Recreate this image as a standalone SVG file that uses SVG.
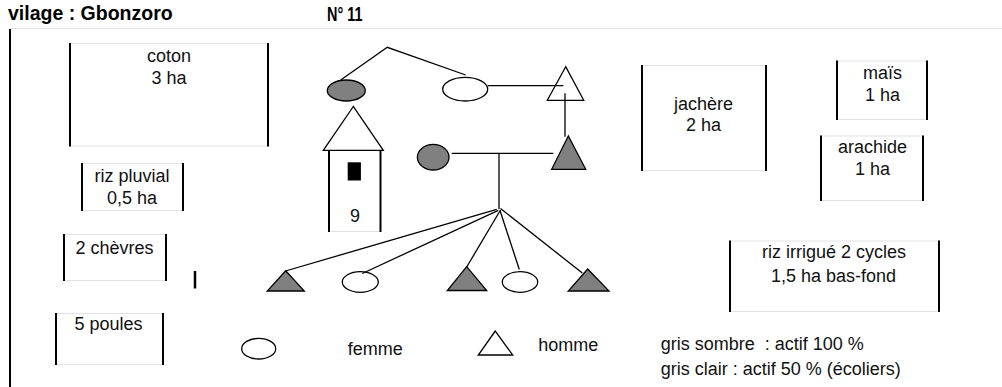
<svg xmlns="http://www.w3.org/2000/svg" width="1002" height="387" viewBox="0 0 1002 387">
<style>
  .t { font-family: "Liberation Sans", Arial, sans-serif; font-size: 18px; fill: #111; text-anchor: middle; }
  .tl { font-family: "Liberation Sans", Arial, sans-serif; font-size: 18px; fill: #111; }
  .hd { font-family: "Liberation Sans", Arial, sans-serif; font-size: 19.5px; font-weight: bold; fill: #000; }
  .side { stroke: #000; stroke-width: 2; fill: none; }
  .edge { stroke: #e2e2e2; stroke-width: 1; fill: none; }
  .dark { fill: #808080; stroke: #000; stroke-width: 1.3; }
  .light { fill: #fff; stroke: #000; stroke-width: 1.3; }
  .con { stroke: #000; stroke-width: 1.3; fill: none; }
</style>
<rect width="1002" height="387" fill="#fff"/>

<g id="header">
  <text class="hd" x="8" y="20">vilage : Gbonzoro</text>
  <text class="hd" x="327" y="20.5" textLength="35.5" lengthAdjust="spacingAndGlyphs">N° 11</text>
  <line class="edge" x1="10" y1="28.5" x2="1002" y2="28.5"/>
  <line class="side" x1="10" y1="29" x2="10" y2="387"/>
</g>

<g id="coton">
  <line class="edge" x1="70" y1="43.5" x2="268" y2="43.5"/>
  <line class="edge" x1="70" y1="146" x2="268" y2="146"/>
  <line class="side" x1="70" y1="43" x2="70" y2="146.5"/>
  <line class="side" x1="268" y1="43" x2="268" y2="146.5"/>
  <text class="t" x="169" y="61.5">coton</text>
  <text class="t" x="169" y="84">3 ha</text>
</g>

<g id="riz-pluvial">
  <line class="edge" x1="82" y1="163.5" x2="183" y2="163.5"/>
  <line class="edge" x1="82" y1="210.5" x2="183" y2="210.5"/>
  <line class="side" x1="82" y1="163" x2="82" y2="211"/>
  <line class="side" x1="183" y1="163" x2="183" y2="211"/>
  <text class="t" x="132" y="181.5">riz pluvial</text>
  <text class="t" x="132" y="203.5">0,5 ha</text>
</g>

<g id="chevres">
  <line class="edge" x1="64" y1="234.5" x2="166" y2="234.5"/>
  <line class="edge" x1="64" y1="280.5" x2="166" y2="280.5"/>
  <line class="side" x1="64" y1="234" x2="64" y2="281"/>
  <line class="side" x1="166" y1="234" x2="166" y2="281"/>
  <text class="t" x="114.5" y="253.5">2 chèvres</text>
</g>

<g id="bar">
  <line class="side" x1="195" y1="271" x2="195" y2="288.5" style="stroke-width:2.5"/>
</g>

<g id="poules">
  <line class="edge" x1="56" y1="313.5" x2="163" y2="313.5"/>
  <line class="edge" x1="56" y1="364.5" x2="163" y2="364.5"/>
  <line class="side" x1="56" y1="313" x2="56" y2="365"/>
  <line class="side" x1="163" y1="313" x2="163" y2="365"/>
  <text class="t" x="108.5" y="330">5 poules</text>
</g>

<g id="jachere">
  <line class="edge" x1="642" y1="65.5" x2="766" y2="65.5"/>
  <line class="edge" x1="642" y1="170.5" x2="766" y2="170.5"/>
  <line class="side" x1="642" y1="65" x2="642" y2="171"/>
  <line class="side" x1="766" y1="65" x2="766" y2="171"/>
  <text class="t" x="703.5" y="109.5">jachère</text>
  <text class="t" x="703.5" y="131">2 ha</text>
</g>

<g id="mais">
  <line class="edge" x1="837" y1="61" x2="927" y2="61"/>
  <line class="edge" x1="837" y1="119.5" x2="927" y2="119.5"/>
  <line class="side" x1="837" y1="60.5" x2="837" y2="120"/>
  <line class="side" x1="927" y1="60.5" x2="927" y2="120"/>
  <text class="t" x="882.5" y="78.5">maïs</text>
  <text class="t" x="882.5" y="100.5">1 ha</text>
</g>

<g id="arachide">
  <line class="edge" x1="821" y1="136" x2="923" y2="136"/>
  <line class="edge" x1="821" y1="200.5" x2="923" y2="200.5"/>
  <line class="side" x1="821" y1="135.5" x2="821" y2="201"/>
  <line class="side" x1="923" y1="135.5" x2="923" y2="201"/>
  <text class="t" x="872.5" y="153">arachide</text>
  <text class="t" x="872.5" y="175">1 ha</text>
</g>

<g id="riz-irrigue">
  <line class="edge" x1="730" y1="241" x2="939" y2="241"/>
  <line class="edge" x1="730" y1="311.5" x2="939" y2="311.5"/>
  <line class="side" x1="730" y1="240.5" x2="730" y2="312"/>
  <line class="side" x1="939" y1="240.5" x2="939" y2="312"/>
  <text class="t" x="834" y="257.5">riz irrigué 2 cycles</text>
  <text class="t" x="833.5" y="281.5">1,5 ha bas-fond</text>
</g>

<g id="house">
  <line class="edge" x1="329" y1="231.5" x2="381" y2="231.5"/>
  <line class="side" x1="329" y1="151" x2="329" y2="232"/>
  <line class="side" x1="380.5" y1="151" x2="380.5" y2="232"/>
  <polygon class="light" points="353.3,106.5 323.3,150.3 383.3,150.3"/>
  <rect x="347.7" y="162.3" width="13.2" height="18.2" fill="#000"/>
  <text class="t" x="355" y="221.5">9</text>
</g>

<g id="grandmere-gris">
  <ellipse class="dark" cx="346.3" cy="90.5" rx="19" ry="10.5"/>
</g>
<g id="grandmere-blanche">
  <ellipse class="light" cx="465.2" cy="89.2" rx="22.5" ry="11.8"/>
</g>
<g id="grandpere">
  <polygon class="light" points="565.7,66.7 547.3,100.3 583.7,100.3"/>
</g>
<g id="mere">
  <ellipse class="dark" cx="433.2" cy="157.2" rx="15.8" ry="12.8"/>
</g>
<g id="pere">
  <polygon class="dark" points="568.3,136 551.7,169.3 585.7,169.3"/>
</g>

<g id="enfant1"><polygon class="dark" points="285.7,270.7 267.3,291 304.3,291"/></g>
<g id="enfant2"><ellipse class="light" cx="360.3" cy="282" rx="18" ry="10.3"/></g>
<g id="enfant3"><polygon class="dark" points="466.7,266.7 447.3,290.5 486.7,290.5"/></g>
<g id="enfant4"><ellipse class="light" cx="520" cy="282" rx="17.7" ry="10.3"/></g>
<g id="enfant5"><polygon class="dark" points="587.7,269 568.3,291 609,291"/></g>

<g id="connectors">
  <polyline class="con" points="340.7,80 387.3,47.3 465.7,75"/>
  <line class="con" x1="487.7" y1="85.7" x2="563.3" y2="85.7"/>
  <line class="con" x1="565" y1="93.3" x2="565" y2="136.7"/>
  <line class="con" x1="451.7" y1="153.3" x2="553.3" y2="153.3"/>
  <line class="con" x1="499" y1="153.3" x2="499" y2="209"/>
  <line class="con" x1="496.7" y1="209.3" x2="285.5" y2="271"/>
  <line class="con" x1="498.3" y1="210.3" x2="362.3" y2="273.5"/>
  <line class="con" x1="500.5" y1="210" x2="466.7" y2="267"/>
  <line class="con" x1="500" y1="210.5" x2="519.3" y2="269.5"/>
  <line class="con" x1="500.5" y1="208.5" x2="582.3" y2="273"/>
</g>

<g id="legende">
  <ellipse class="light" cx="258.7" cy="348.7" rx="17" ry="10.3"/>
  <text class="tl" x="347.7" y="354.5">femme</text>
  <polygon class="light" points="495.3,331 478.3,355 512.7,355"/>
  <text class="tl" x="538.3" y="350.7">homme</text>
  <text class="tl" x="660.7" y="350" xml:space="preserve">gris sombre  : actif 100 %</text>
  <text class="tl" x="660.7" y="375">gris clair : actif 50 % (écoliers)</text>
</g>
</svg>
